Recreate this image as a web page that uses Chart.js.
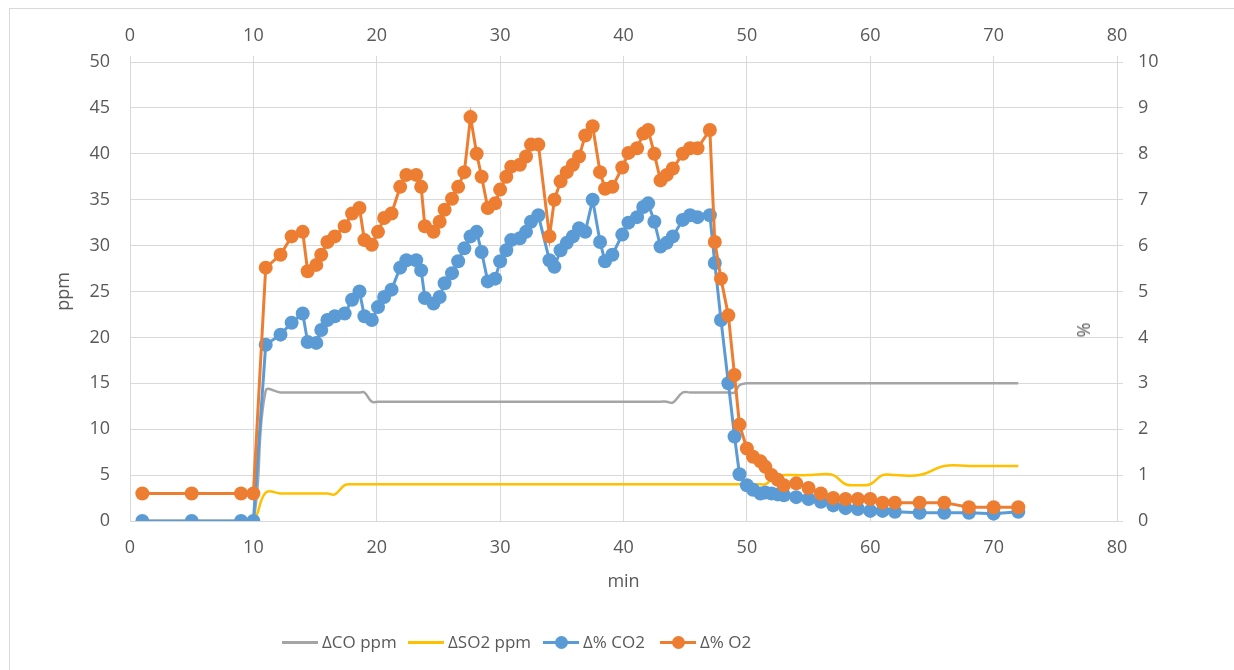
<!DOCTYPE html>
<html>
<head>
<meta charset="utf-8">
<script src="https://cdn.jsdelivr.net/npm/chart.js@4.4.1/dist/chart.umd.min.js"></script>
<style>
  body { margin: 0; background: #fff; width: 1234px; height: 670px; overflow: hidden; font-family: 'Open Sans', sans-serif; }
  #wrap { position: relative; width: 1234px; height: 670px; }
  #frame { position: absolute; left: 9px; top: 8px; width: 1300px; height: 700px; border: 1px solid #d9d9d9; }
  #chartBox { position: absolute; left: 0; top: 0; width: 1234px; height: 670px; }
  .lg { position: absolute; top: 631px; line-height: 22px; font-size: 17px; color: #595959; white-space: nowrap; }
  .ln { display: inline-block; position: relative; width: 36px; height: 3px; vertical-align: middle; margin-right: 4px; margin-top: -2px; }
  .ln i { position: absolute; left: 11.5px; top: -5px; width: 13px; height: 13px; border-radius: 50%; }
  #pctTitle { position: absolute; left: 1083px; top: 330px; font-size: 18px; color: #595959; transform: translate(-50%, -50%) rotate(-90deg); }
</style>
</head>
<body>
<div id="wrap">
  <div id="frame"></div>
  <div id="chartBox"><canvas id="chart"></canvas></div>
  <div id="pctTitle">%</div>
  <div class="lg" style="left:282px"><span class="ln" style="background:#A5A5A5"></span>ΔCO ppm</div>
  <div class="lg" style="left:408px"><span class="ln" style="background:#FFC000"></span>ΔSO2 ppm</div>
  <div class="lg" style="left:543px"><span class="ln" style="background:#5B9BD5"><i style="background:#5B9BD5"></i></span>Δ% CO2</div>
  <div class="lg" style="left:660px"><span class="ln" style="background:#ED7D31"><i style="background:#ED7D31"></i></span>Δ% O2</div>
</div>
<script>
// sampling times (min), shared by all four series
const minutes = [
  1, 5, 9, 10, 11, 12.2, 13.1, 14, 14.4, 15.1,
  15.5, 16, 16.6, 17.4, 18, 18.6, 19, 19.6, 20.1, 20.6,
  21.2, 21.9, 22.4, 23.2, 23.6, 23.9, 24.6, 25.1, 25.5, 26.1,
  26.6, 27.1, 27.6, 28.1, 28.5, 29, 29.6, 30, 30.5, 30.9,
  31.6, 32.1, 32.5, 33.1, 34, 34.4, 34.9, 35.4, 35.9, 36.4,
  36.9, 37.5, 38.1, 38.5, 39.1, 39.9, 40.4, 41.1, 41.6, 42,
  42.5, 43, 43.5, 44, 44.8, 45.4, 46, 47, 47.4, 47.9,
  48.5, 49, 49.4, 50, 50.5, 51.1, 51.5, 52, 52.5, 53,
  54, 55, 56, 57, 58, 59, 60, 61, 62, 64,
  66, 68, 70, 72
];

// ppm (left axis)
const coPpm = [
  0, 0, 0, 0, 14.2, 14, 14, 14, 14, 14,
  14, 14, 14, 14, 14, 14, 14, 13, 13, 13,
  13, 13, 13, 13, 13, 13, 13, 13, 13, 13,
  13, 13, 13, 13, 13, 13, 13, 13, 13, 13,
  13, 13, 13, 13, 13, 13, 13, 13, 13, 13,
  13, 13, 13, 13, 13, 13, 13, 13, 13, 13,
  13, 13, 13, 12.9, 14, 14, 14, 14, 14, 14,
  14, 14, 14.8, 15, 15, 15, 15, 15, 15, 15,
  15, 15, 15, 15, 15, 15, 15, 15, 15, 15,
  15, 15, 15, 15
];

const so2Ppm = [
  0, 0, 0, 0, 3.1, 3, 3, 3, 3, 3,
  3, 3, 2.9, 3.9, 4, 4, 4, 4, 4, 4,
  4, 4, 4, 4, 4, 4, 4, 4, 4, 4,
  4, 4, 4, 4, 4, 4, 4, 4, 4, 4,
  4, 4, 4, 4, 4, 4, 4, 4, 4, 4,
  4, 4, 4, 4, 4, 4, 4, 4, 4, 4,
  4, 4, 4, 4, 4, 4, 4, 4, 4, 4,
  4, 4, 4, 4, 4, 4, 4, 4.5, 4.9, 5,
  5, 5, 5.1, 5, 4, 3.9, 4, 5, 5, 5,
  6, 6, 6, 6
];

// % (right axis)
const co2Pct = [
  0, 0, 0, 0, 3.84, 4.06, 4.32, 4.52, 3.9, 3.88,
  4.16, 4.38, 4.46, 4.52, 4.82, 5.0, 4.46, 4.38, 4.66, 4.88,
  5.04, 5.52, 5.68, 5.68, 5.46, 4.86, 4.74, 4.88, 5.18, 5.4,
  5.66, 5.94, 6.2, 6.3, 5.86, 5.22, 5.28, 5.66, 5.9, 6.12,
  6.16, 6.3, 6.52, 6.66, 5.68, 5.54, 5.9, 6.06, 6.2, 6.38,
  6.3, 7.0, 6.08, 5.66, 5.8, 6.24, 6.5, 6.62, 6.84, 6.92,
  6.52, 5.98, 6.06, 6.2, 6.56, 6.66, 6.62, 6.66, 5.62, 4.38,
  3.0, 1.84, 1.02, 0.78, 0.68, 0.6, 0.62, 0.6, 0.58, 0.56,
  0.52, 0.48, 0.42, 0.34, 0.28, 0.26, 0.22, 0.22, 0.2, 0.18,
  0.18, 0.18, 0.16, 0.2
];

const o2Pct = [
  0.6, 0.6, 0.6, 0.6, 5.52, 5.8, 6.2, 6.3, 5.44, 5.58,
  5.8, 6.08, 6.2, 6.42, 6.7, 6.82, 6.12, 6.02, 6.3, 6.6,
  6.7, 7.28, 7.54, 7.54, 7.28, 6.42, 6.3, 6.52, 6.78, 7.02,
  7.28, 7.6, 8.8, 8.0, 7.5, 6.82, 6.92, 7.22, 7.5, 7.72,
  7.76, 7.94, 8.2, 8.2, 6.2, 7.0, 7.4, 7.6, 7.76, 7.94,
  8.4, 8.6, 7.6, 7.24, 7.28, 7.7, 8.02, 8.12, 8.44, 8.52,
  8.0, 7.42, 7.54, 7.68, 8.0, 8.12, 8.12, 8.52, 6.08, 5.28,
  4.48, 3.18, 2.1, 1.58, 1.4, 1.3, 1.18, 1.0, 0.9, 0.78,
  0.82, 0.72, 0.6, 0.5, 0.48, 0.48, 0.48, 0.4, 0.4, 0.4,
  0.4, 0.3, 0.3, 0.3
];

const xTicks = { min: 0, max: 80, step: 10 };
const ppmTicks = { min: 0, max: 50, step: 5 };
const pctTicks = { min: 0, max: 10, step: 1 };

const gridColor = '#d9d9d9';
const textColor = '#595959';
const tickFont = { family: 'Open Sans', size: 18 };
const titleFont = { family: 'Open Sans', size: 18 };

function points(values) {
  return minutes.map((t, i) => ({ x: t, y: values[i] }));
}

new Chart(document.getElementById('chart'), {
  type: 'line',
  data: {
    datasets: [
      {
        label: 'Δ% O2', data: points(o2Pct), xAxisID: 'x2', yAxisID: 'y2', order: 0,
        borderColor: '#ED7D31', backgroundColor: '#ED7D31', borderWidth: 3,
        pointRadius: 7, pointBorderWidth: 0, tension: 0
      },
      {
        label: 'Δ% CO2', data: points(co2Pct), xAxisID: 'x2', yAxisID: 'y2', order: 1,
        borderColor: '#5B9BD5', backgroundColor: '#5B9BD5', borderWidth: 3,
        pointRadius: 7, pointBorderWidth: 0, tension: 0
      },
      {
        label: 'ΔSO2 ppm', data: points(so2Ppm), xAxisID: 'x', yAxisID: 'y', order: 2,
        borderColor: '#FFC000', borderWidth: 2.5, pointRadius: 0, tension: 0.4
      },
      {
        label: 'ΔCO ppm', data: points(coPpm), xAxisID: 'x', yAxisID: 'y', order: 3,
        borderColor: '#A5A5A5', borderWidth: 2.5, pointRadius: 0, tension: 0.4
      }
    ]
  },
  options: {
    responsive: true,
    maintainAspectRatio: false,
    animation: false,
    layout: { padding: 0 },
    plugins: { legend: { display: false }, tooltip: { enabled: false } },
    scales: {
      x: {
        type: 'linear', position: 'bottom', min: xTicks.min, max: xTicks.max,
        ticks: { stepSize: xTicks.step, color: textColor, font: tickFont, padding: 16 },
        grid: { color: gridColor, drawTicks: false },
        border: { color: gridColor },
        title: { display: true, text: 'min', color: textColor, font: titleFont, padding: { top: 0, bottom: 77 } },
        afterFit: s => { s.height = 149; }
      },
      x2: {
        type: 'linear', position: 'top', min: xTicks.min, max: xTicks.max,
        ticks: { stepSize: xTicks.step, color: textColor, font: tickFont, padding: 9 },
        grid: { color: gridColor, drawOnChartArea: false, drawTicks: true, tickLength: 6 },
        border: { color: gridColor },
        afterFit: s => { s.height = 62; }
      },
      y: {
        position: 'left', min: ppmTicks.min, max: ppmTicks.max,
        ticks: { stepSize: ppmTicks.step, color: textColor, font: tickFont, padding: 20 },
        grid: { color: gridColor, drawTicks: false },
        border: { color: gridColor },
        title: { display: true, text: 'ppm', color: textColor, font: titleFont, padding: { top: 53, bottom: 0 } },
        afterFit: s => { s.width = 130; }
      },
      y2: {
        position: 'right', min: pctTicks.min, max: pctTicks.max,
        ticks: { stepSize: pctTicks.step, color: textColor, font: tickFont, padding: 15 },
        grid: { color: gridColor, drawOnChartArea: false, drawTicks: true, tickLength: 6 },
        border: { color: gridColor },
        afterFit: s => { s.width = 117; }
      }
    }
  }
});
</script>
</body>
</html>
